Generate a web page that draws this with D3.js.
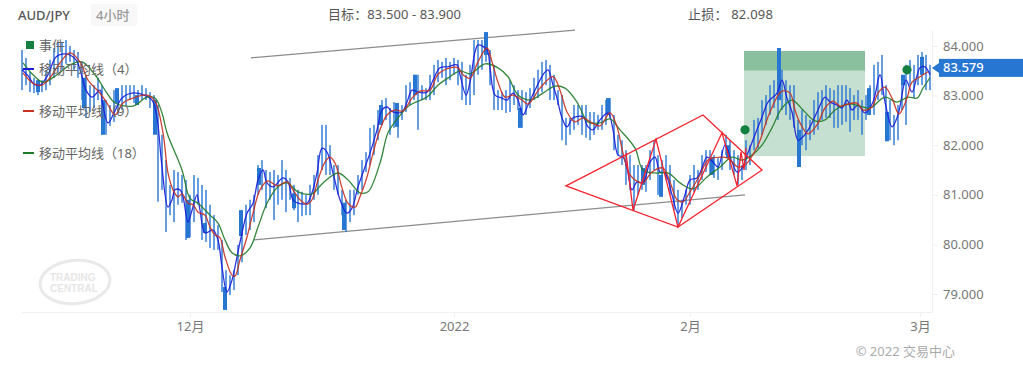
<!DOCTYPE html>
<html>
<head>
<meta charset="utf-8">
<style>
  html, body { margin: 0; padding: 0; background: #fff; }
  svg { display: block; }
  text { font-family: "Noto Sans", "Noto Sans CJK SC", sans-serif; }
</style>
<script src="https://cdn.jsdelivr.net/npm/d3@7"></script>
</head>
<body>
<div id="chart"></div>
<script>
// 4h bars, every second bar
const barStep = 2;
const barHighs = [83.92,83.76,83.48,83.36,83.31,83.31,83.52,83.72,83.96,84.08,84.08,84.12,84.00,83.92,83.88,83.68,83.42,83.21,83.21,83.36,83.21,82.91,82.81,83.11,83.15,83.21,83.21,83.21,83.21,83.11,83.21,83.15,83.07,83.01,82.81,82.21,81.70,81.20,81.50,81.46,81.40,81.30,81.00,81.40,81.34,81.20,81.10,80.80,80.59,80.39,80.09,79.48,79.38,79.48,79.99,80.69,80.80,80.90,81.00,81.60,81.70,81.50,81.46,81.50,81.40,81.70,81.50,81.34,81.20,81.10,81.06,81.00,81.20,81.40,81.80,82.41,82.41,82.00,81.60,81.60,81.10,80.90,81.10,81.10,81.40,81.70,81.86,82.35,82.41,82.71,82.91,82.95,82.75,82.87,82.81,82.81,83.21,83.27,83.42,83.42,83.21,83.15,83.42,83.62,83.72,83.68,83.76,83.68,83.76,83.72,83.68,83.42,83.62,84.12,84.12,84.12,84.28,83.92,83.62,83.11,83.07,83.11,83.31,83.21,83.11,83.11,83.07,83.15,83.36,83.52,83.68,83.72,83.62,83.42,83.11,83.01,82.55,82.55,82.81,82.81,82.81,82.81,82.67,82.67,82.61,82.81,82.91,82.95,82.61,82.21,82.10,81.90,81.80,81.60,81.60,81.60,81.60,81.90,82.10,81.80,81.70,81.80,81.60,81.30,81.10,80.90,81.10,81.40,81.60,81.50,81.80,81.90,81.90,81.80,81.74,81.90,82.21,82.10,81.90,81.80,81.60,82.10,82.00,82.51,82.55,82.91,83.01,83.21,83.31,83.96,83.52,83.31,83.21,83.21,82.51,82.71,82.61,82.51,82.91,83.07,83.11,83.21,83.15,83.11,83.21,83.21,83.21,83.15,83.01,83.11,82.91,83.01,83.21,83.62,83.68,83.82,83.21,82.91,82.61,82.81,83.31,83.62,83.72,83.62,83.82,83.88,83.82,83.62];
const barLows = [83.11,83.21,83.07,83.05,83.01,83.07,83.11,83.21,83.36,83.48,83.52,83.64,83.68,83.52,83.36,82.91,82.55,82.67,82.75,82.91,82.21,82.21,82.39,82.47,82.61,82.71,82.81,82.91,82.85,82.83,82.91,82.91,82.75,82.51,80.86,81.10,80.25,80.59,80.45,80.80,80.84,80.09,80.15,80.45,80.80,80.09,80.05,79.93,79.89,79.89,79.04,78.68,78.98,79.08,79.38,79.64,80.19,80.29,80.45,81.00,81.10,80.73,80.90,80.49,80.80,80.90,80.65,80.90,80.69,80.45,80.57,80.59,80.59,80.90,81.00,81.50,81.40,81.40,81.10,81.00,80.59,80.25,80.45,80.59,81.00,81.10,81.46,81.60,81.80,82.10,82.41,82.51,82.21,82.35,82.15,82.51,82.67,82.81,82.91,82.31,82.91,82.91,82.91,83.01,83.27,83.36,83.21,83.31,83.42,83.21,82.91,82.81,82.81,83.01,83.42,83.52,83.68,83.21,82.71,82.71,82.71,82.65,82.67,82.81,82.71,82.35,82.61,82.75,82.91,82.95,83.07,83.21,82.91,82.91,82.81,82.10,82.00,82.21,82.31,82.41,82.21,82.15,82.10,82.21,82.31,82.31,82.41,82.55,81.90,81.80,81.60,81.20,81.10,80.69,81.00,81.10,81.06,81.30,81.50,81.00,80.96,81.30,81.00,80.69,80.39,80.53,80.80,80.80,81.06,81.10,81.30,81.46,81.40,81.34,81.30,81.50,81.80,81.50,81.40,81.20,81.30,81.50,81.60,81.90,81.94,82.21,82.41,82.61,82.75,82.51,82.71,82.61,82.51,82.35,81.56,82.00,81.90,82.10,82.21,82.31,82.51,82.55,82.55,82.35,82.35,82.41,82.47,82.27,82.51,82.51,82.21,82.51,82.61,82.61,82.91,83.01,82.08,82.10,82.00,82.10,82.71,82.41,83.21,82.95,83.21,83.21,83.11,83.11];

// candles with a readable solid body
const blockBars = [8,31,40.5,47.5,57.5,66.5,83,91.5,101.5,109.5,118.5,136,161,179.5,187.5,196.5,232,249,293,310.5,319.5,345,353,378.5,388.5,423.5,432.5,440.5,450];
const blockTops = [83.31,83.36,82.91,83.15,83.01,82.91,80.90,80.43,79.14,80.69,81.54,81.03,80.84,82.81,82.85,83.42,84.28,82.75,82.95,81.54,81.40,81.76,82.00,83.96,82.31,83.15,82.67,83.42,83.78];
const blockBottoms = [83.07,82.75,82.21,82.85,82.81,82.21,80.13,80.23,78.68,80.17,81.20,80.73,80.29,82.41,82.37,83.01,83.82,82.35,82.61,81.20,80.96,81.40,81.74,82.91,81.56,82.61,82.08,83.21,83.42];

const ma4Bars = [0,3,6,9,13,17,22,27,30,32,35,39,40,43,46,50,55,61,65,67,68,70,73,75,76.5,79,80.5,83,85,87.5,89,91.5,95.5,98,100,102.5,105,107.5,110,112.5,115.5,118,120.5,122.5,125.5,130.5,133,135.5,138,142.5,145,147.5,150,152.5,155.5,159,162.5,165,168,171.5,174,177.5,180,182.5,185.5,190,192.5,195,198,202.5,205.5,209,213,217.5,219,222,224,226.5,228,232.5,234,236.5,240,242.5,245.5,248,250.5,253,256.5,260.5,263,265.5,267.5,270,272.5,275.5,280.5,283,285.5,289,293,295.5,298,300.5,302.5,305,307.5,310.5,314,316.5,319,321.5,325,328,331.5,334,337.5,340,342.5,345.5,348,351.5,355,357.5,360,362.5,366.5,370,373,377.5,380,382.5,385,388,390.5,394,398,401.5,404,407.5,410,412.5,415,418,421.5,425.5,429,431.5,435,438,442,445,449,451.5,454];
const ma4Values = [83.52,83.40,83.23,83.21,83.42,83.78,83.84,83.72,83.38,83.11,82.97,83.11,82.91,82.45,82.65,82.95,83.05,83.01,82.91,82.67,82.41,81.56,80.75,80.90,81.10,81.10,80.96,80.45,80.69,81.00,80.69,80.23,80.29,80.09,79.54,79.04,79.28,79.75,80.23,80.63,80.83,81.30,81.50,81.24,81.16,81.34,81.26,80.90,80.83,80.83,81.04,81.44,81.94,81.86,81.44,80.90,80.63,80.73,81.16,81.56,81.84,82.31,82.71,82.77,82.67,82.67,82.87,83.11,83.07,83.07,83.31,83.56,83.58,83.62,83.42,83.01,83.27,83.88,84.02,83.92,83.56,83.01,82.95,82.91,83.05,82.91,82.61,82.81,83.11,83.42,83.52,83.21,82.95,82.55,82.37,82.55,82.57,82.37,82.31,82.51,82.65,82.31,81.80,81.76,81.54,81.10,81.26,81.24,81.66,81.76,81.46,81.44,81.00,80.63,81.00,81.30,81.34,81.54,81.76,81.66,81.56,82.00,81.66,81.46,81.54,81.80,82.21,82.57,82.87,83.05,83.31,82.95,82.67,82.10,82.17,82.37,82.71,82.97,82.87,82.81,82.75,82.91,82.71,82.81,82.65,82.87,83.42,82.87,82.37,82.61,83.31,83.07,83.56,83.58,83.42];

const ma9Bars = [0.5,5.5,10,14,19,24,29,33,39,42.5,46.5,50.5,55.5,62.5,66.5,70.5,73,75.5,78,80,83,85.5,88,91.5,94,96.5,99,101.5,105,106.5,109,112.5,115.5,119,123,127.5,132.5,135.5,139,142.5,145,148,151.5,154,156.5,160,163,166.5,169,172.5,175.5,179,182.5,186.5,190.5,195,199,204,208,214,218,220.5,224,228,232.5,235,238,241.5,245.5,250,253,259,265.5,269,272.5,276.5,280.5,285,289,294,297.5,300.5,304,308,310.5,315,320.5,324,327.5,330.5,334,339,343,349,353,358,361.5,368,373,377.5,380,384,386.5,389,393,397.5,401.5,405.5,409,413,417.5,420.5,425,428,431.5,435,438.5,442.5,445,449,453];
const ma9Values = [83.46,83.25,83.21,83.36,83.66,83.86,83.68,83.31,83.05,82.85,82.61,82.85,82.95,83.01,82.89,82.25,81.44,81.10,80.96,81.02,80.83,80.80,80.65,80.59,80.35,80.19,80.13,79.75,79.38,79.36,79.69,80.15,80.63,81.10,81.28,81.18,81.26,81.10,80.90,80.81,80.90,81.30,81.66,81.76,81.64,81.14,80.83,80.75,80.96,81.36,81.84,82.31,82.61,82.71,82.69,82.95,83.09,83.11,83.43,83.56,83.56,83.42,83.35,83.68,83.96,83.68,83.27,82.97,83.01,82.91,82.83,83.15,83.38,83.11,82.67,82.47,82.55,82.45,82.39,82.65,82.37,81.84,81.40,81.26,81.24,81.46,81.54,81.26,80.90,80.86,81.06,81.40,81.70,81.76,81.74,81.56,81.60,82.00,82.57,82.97,83.09,83.05,82.71,82.45,82.23,82.41,82.75,82.89,82.79,82.83,82.85,82.71,82.77,83.05,83.17,82.95,82.63,82.95,83.27,83.38,83.48];

const ma18Bars = [0.5,5.5,10.5,17.5,24,30,36.5,42.5,46.5,55.5,62.5,66.5,70,72.5,80,84,88,94,98,101.5,105,109,114,118,122.5,128,132.5,138,145,150.5,158,163,169,173,179,183,188,194,202.5,208,214,219,224,231.5,238,243,248,254,260.5,266.5,271.5,277.5,283,289,294,299,306.5,310.5,316.5,323,329,335.5,342.5,349,355,360,365,370,375,380,385,390.5,396.5,401.5,406.5,413,419,424,431.5,437.5,443,447.5,450.5,454];
const ma18Values = [83.66,83.42,83.27,83.42,83.62,83.68,83.42,83.05,82.85,82.79,82.97,82.95,82.65,82.25,81.50,80.93,80.83,80.59,80.43,80.09,79.83,79.77,79.93,80.35,80.83,81.16,81.24,81.06,81.02,81.24,81.44,81.30,81.04,81.06,81.64,82.25,82.55,82.81,82.97,83.21,83.38,83.50,83.44,83.64,83.56,83.38,83.01,82.91,83.05,83.19,83.15,82.87,82.47,82.45,82.53,82.31,81.94,81.50,81.44,81.44,81.24,81.12,81.36,81.56,81.76,81.70,81.80,82.00,82.35,82.75,82.91,82.71,82.49,82.51,82.71,82.83,82.79,82.75,82.97,82.87,82.97,82.95,83.15,83.36];

// drawn objects from the analysis overlay
const channelBars = [[114.5,276.5],[116,361.5]];
const channelPrices = [[83.76,84.32],[80.09,81.00]];
const diamondBars = [272,340.5,370,328];
const diamondPrices = [81.18,82.61,81.50,80.35];
const zigzagBars = [302,305.5,317,328,350,357.5,359.5,361,362];
const zigzagPrices = [81.84,80.69,82.12,80.35,82.25,81.18,81.86,81.50,81.94];
const eventBars = [361.5,442.5];
const eventPrices = [82.31,83.52];

const zoneBars = [361,421.5];
const targetPrices = [83.9,83.5];
const stopZoneBottom = 81.78;

const lastPrice = 83.579;
const priceTicks = [84,83,82,81,80,79];
const timeTickBars = [84,216,334,449];
const timeTickLabels = ["12月","2022","2月","3月"];

const legendLabels = ["事件","移动平均线（4）","移动平均线（9）","移动平均线（18）"];
const legendColors = ["#14803f","#1c1cd8","#c8301f","#1f7a28"];

const width = 1023, height = 366;
const props = { left: 22, right: 932, top: 30, bottom: 312 };

const svg = d3.select("#chart").append("svg")
    .attr("width", width)
    .attr("height", height);

const xScale = d3.scaleLinear().domain([0, 455]).range([props.left, props.right]);
const yScale = d3.scaleLinear().domain([79, 84]).range([294, 46]);

// trade zone
svg.append("rect")
   .attr("x", xScale(zoneBars[0]))
   .attr("y", yScale(targetPrices[0]))
   .attr("width", xScale(zoneBars[1]) - xScale(zoneBars[0]))
   .attr("height", yScale(targetPrices[1]) - yScale(targetPrices[0]))
   .attr("fill", "#8ac09e");
svg.append("rect")
   .attr("x", xScale(zoneBars[0]))
   .attr("y", yScale(targetPrices[1]))
   .attr("width", xScale(zoneBars[1]) - xScale(zoneBars[0]))
   .attr("height", yScale(stopZoneBottom) - yScale(targetPrices[1]))
   .attr("fill", "#c5e0d0");

// channel
channelBars.forEach((bars, i) => {
    svg.append("line")
       .attr("x1", xScale(bars[0]))
       .attr("x2", xScale(bars[1]))
       .attr("y1", yScale(channelPrices[i][0]))
       .attr("y2", yScale(channelPrices[i][1]))
       .attr("stroke", "#8c8c8c")
       .attr("stroke-width", 1.2);
});

// wicks
svg.append("g").selectAll("rect")
   .data(barHighs)
   .join("rect")
   .attr("x", (d, i) => xScale(i * barStep) - 0.7)
   .attr("y", d => yScale(d))
   .attr("width", 1.4)
   .attr("height", (d, i) => yScale(barLows[i]) - yScale(d))
   .attr("fill", "#2776d2");

// bodies
svg.append("g").selectAll("rect")
   .data(blockBars)
   .join("rect")
   .attr("x", d => xScale(d) - 2)
   .attr("y", (d, i) => yScale(blockTops[i]))
   .attr("width", 4)
   .attr("height", (d, i) => yScale(blockBottoms[i]) - yScale(blockTops[i]))
   .attr("fill", "#2776d2");

// moving averages
const maLine = d3.line()
    .x(d => xScale(d[0]))
    .y(d => yScale(d[1]))
    .curve(d3.curveCatmullRom);

[[ma4Bars, ma4Values, legendColors[1]],
 [ma18Bars, ma18Values, legendColors[3]],
 [ma9Bars, ma9Values, legendColors[2]]].forEach(([bars, values, color]) => {
    svg.append("path")
       .attr("d", maLine(bars.map((b, i) => [b, values[i]])))
       .attr("fill", "none")
       .attr("stroke", color)
       .attr("stroke-opacity", 0.9)
       .attr("stroke-width", 1.3);
});

// chart pattern
const straight = d3.line().x(d => xScale(d[0])).y(d => yScale(d[1]));
svg.append("path")
   .attr("d", straight(diamondBars.map((b, i) => [b, diamondPrices[i]])) + "Z")
   .attr("fill", "none")
   .attr("stroke", "#f5222d")
   .attr("stroke-width", 1.3);
svg.append("path")
   .attr("d", straight(zigzagBars.map((b, i) => [b, zigzagPrices[i]])))
   .attr("fill", "none")
   .attr("stroke", "#f5222d")
   .attr("stroke-width", 1.3);

// event markers
svg.append("g").selectAll("circle")
   .data(eventBars)
   .join("circle")
   .attr("cx", d => xScale(d))
   .attr("cy", (d, i) => yScale(eventPrices[i]))
   .attr("r", 4.6)
   .attr("fill", legendColors[0]);

// legend
const legendY = [45, 69, 111, 153];
legendLabels.forEach((label, i) => {
    if (i === 0) {
        svg.append("rect").attr("x", 26).attr("y", legendY[i] - 4).attr("width", 8).attr("height", 8)
           .attr("fill", legendColors[i]);
    } else {
        svg.append("rect").attr("x", 23).attr("y", legendY[i] - 1).attr("width", 11).attr("height", 2)
           .attr("fill", legendColors[i]);
    }
    svg.append("text")
       .attr("x", 39)
       .attr("y", legendY[i] + 4.5)
       .attr("font-size", 13)
       .attr("fill", "#666")
       .text(label);
});

// axes
const yAxis = d3.axisRight(yScale)
    .tickValues(priceTicks)
    .tickFormat(d3.format(".3f"))
    .tickSize(6)
    .tickPadding(5);
const xAxis = d3.axisBottom(xScale)
    .tickValues(timeTickBars)
    .tickFormat((d, i) => timeTickLabels[i])
    .tickSize(5)
    .tickPadding(5);

const yG = svg.append("g").attr("transform", `translate(${props.right}, 0)`).call(yAxis);
const xG = svg.append("g").attr("transform", `translate(0, ${props.bottom})`).call(xAxis);
[yG, xG].forEach(g => {
    g.select(".domain").remove();
    g.selectAll(".tick line").attr("stroke", "#f0f0f0");
    g.selectAll(".tick text")
     .attr("font-size", 13)
     .attr("font-family", '"Noto Sans", "Noto Sans CJK SC", sans-serif')
     .attr("fill", "#777");
});
svg.append("line").attr("x1", props.left).attr("x2", props.right).attr("y1", props.bottom + 0.5).attr("y2", props.bottom + 0.5)
   .attr("stroke", "#f0f0f0");
svg.append("line").attr("x1", props.right + 0.5).attr("x2", props.right + 0.5).attr("y1", props.top).attr("y2", props.bottom)
   .attr("stroke", "#f0f0f0");

// last price tag
const tagY = yScale(lastPrice) + 1;
svg.append("rect").attr("x", 939).attr("y", tagY - 9).attr("width", 84).attr("height", 18).attr("fill", "#2776d2");
svg.append("path").attr("d", d3.line()([[932, tagY], [939, tagY - 5], [939, tagY + 5]]) + "Z").attr("fill", "#2776d2");
svg.append("text")
   .attr("x", 943)
   .attr("y", tagY + 4.5)
   .attr("font-size", 13)
   .attr("font-weight", 500)
   .attr("fill", "#fff")
   .text(d3.format(".3f")(lastPrice));

// header
svg.append("text").attr("x", 18).attr("y", 20).attr("font-size", 13).attr("font-weight", 500).attr("fill", "#555").text("AUD/JPY");
svg.append("rect").attr("x", 91).attr("y", 4).attr("width", 46).attr("height", 22).attr("rx", 3).attr("fill", "#f8f8f8");
svg.append("text").attr("x", 96).attr("y", 20).attr("font-size", 13).attr("font-weight", 500).attr("fill", "#999").text("4小时");
svg.append("text").attr("x", 328).attr("y", 19).attr("font-size", 13).attr("letter-spacing", 0.1).attr("fill", "#555").text("目标：83.500 - 83.900");
svg.append("text").attr("x", 688).attr("y", 19).attr("font-size", 13).attr("letter-spacing", 0.2).attr("fill", "#555").text("止损： 82.098");

// logo watermark
svg.append("ellipse")
   .attr("cx", 75).attr("cy", 282).attr("rx", 35).attr("ry", 21.5)
   .attr("transform", "rotate(-5 75 282)")
   .attr("fill", "none")
   .attr("stroke", "#e9e9e9")
   .attr("stroke-width", 3);
svg.append("text").attr("x", 50).attr("y", 281).attr("font-size", 10).attr("font-weight", 700).attr("style", "font-family: 'Liberation Sans'").attr("fill", "#e6e6e6").text("TRADING");
svg.append("text").attr("x", 50).attr("y", 292).attr("font-size", 10).attr("font-weight", 700).attr("style", "font-family: 'Liberation Sans'").attr("fill", "#e6e6e6").text("CENTRAL");

// footer
svg.append("text").attr("x", 955).attr("y", 356).attr("text-anchor", "end").attr("font-size", 13).attr("fill", "#aaa").text("© 2022 交易中心");
</script>
</body>
</html>
